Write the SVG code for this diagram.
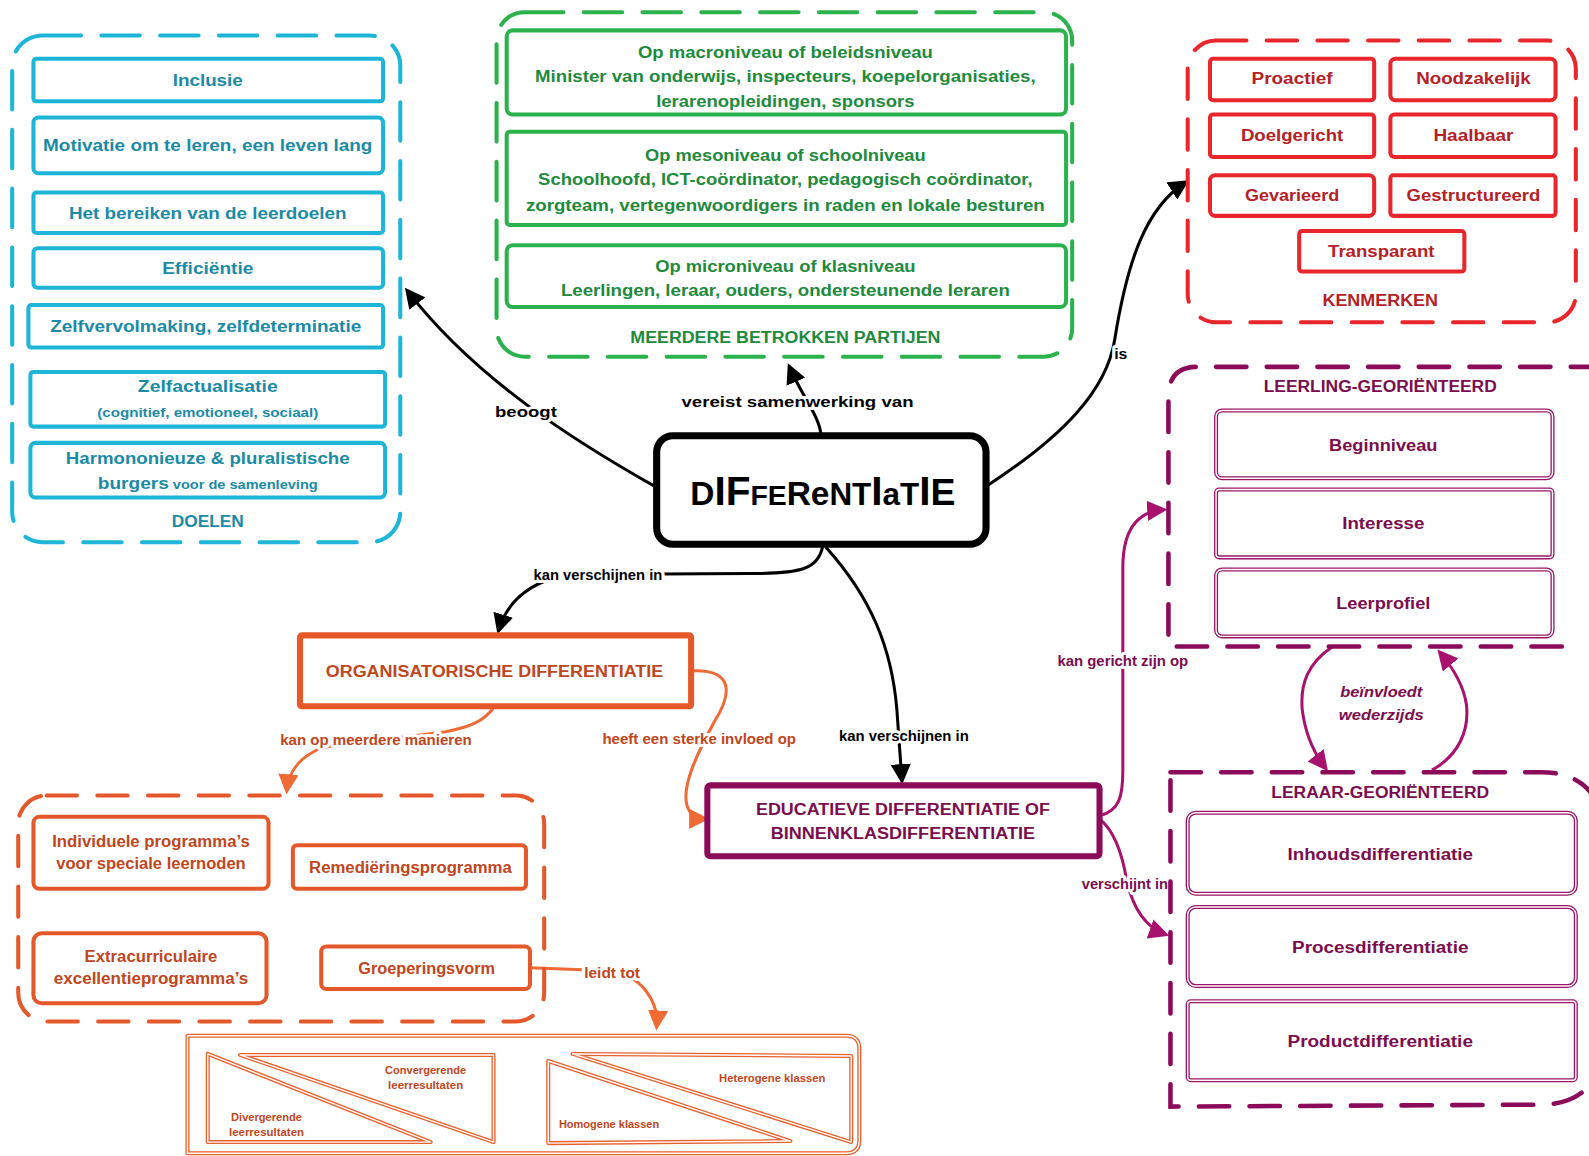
<svg xmlns="http://www.w3.org/2000/svg" width="1589" height="1156" viewBox="0 0 1589 1156">
<style>
text{font-family:"Liberation Sans",Arial,sans-serif;font-weight:bold;text-anchor:middle}
.bg{fill:#fff}
.cyd{fill:none;stroke:#1eb6d8;stroke-width:4;stroke-dasharray:38 20;stroke-linecap:round}
.cyb{fill:#fff;stroke:#1eb6d8;stroke-width:4;stroke-linejoin:round}
.cyt{fill:#1a8ba6}
.grd{fill:none;stroke:#2bb24c;stroke-width:4;stroke-dasharray:38 20;stroke-linecap:round}
.grb{fill:#fff;stroke:#2bb24c;stroke-width:4;stroke-linejoin:round}
.grt{fill:#1e8a3c}
.rdd{fill:none;stroke:#e8262b;stroke-width:4;stroke-dasharray:30 20;stroke-linecap:round}
.rdb{fill:#fff;stroke:#e8262b;stroke-width:4;stroke-linejoin:round}
.rdt{fill:#b42126}
.pud{fill:none;stroke:#8c0a5a;stroke-width:4.5;stroke-dasharray:30 20;stroke-linecap:round}
.pub{fill:#fff;stroke:#9a1468;stroke-width:4;stroke-linejoin:round}
.pubi{fill:none;stroke:#fff;stroke-width:1.4}
.put{fill:#7b0d4e}
.ord{fill:none;stroke:#e4582a;stroke-width:4;stroke-dasharray:30 20;stroke-linecap:round}
.orb{fill:#fff;stroke:#e4582a;stroke-width:4;stroke-linejoin:round}
.orw{fill:none;stroke:#e8602c;stroke-width:4;stroke-linejoin:round}
.orwi{fill:none;stroke:#fff;stroke-width:1.4;stroke-linejoin:round}
.ort{fill:#c0461d}
.lbl{paint-order:stroke;stroke:#fff;stroke-width:6;stroke-linejoin:round}
.ck{fill:none;stroke:#000;stroke-width:3}
.co{fill:none;stroke:#f06a35;stroke-width:3}
.cp{fill:none;stroke:#a8126e;stroke-width:3}
</style>
<defs>
<marker id="mk" viewBox="0 0 10 10" refX="8" refY="5" markerWidth="20" markerHeight="20" markerUnits="userSpaceOnUse" orient="auto"><path d="M0,0 L10,5 L0,10 z" fill="#000"/></marker>
<marker id="mo" viewBox="0 0 10 10" refX="8" refY="5" markerWidth="20" markerHeight="20" markerUnits="userSpaceOnUse" orient="auto"><path d="M0,0 L10,5 L0,10 z" fill="#f06a35"/></marker>
<marker id="mp" viewBox="0 0 10 10" refX="8" refY="5" markerWidth="20" markerHeight="20" markerUnits="userSpaceOnUse" orient="auto"><path d="M0,0 L10,5 L0,10 z" fill="#a8126e"/></marker>
</defs>
<rect class="bg" x="0" y="0" width="1589" height="1156"/>
<g transform="scale(1.01339)">

<g id="connectors">
<path class="ck" d="M648,481 C570,437 470,375 402,287" marker-end="url(#mk)"/>
<path class="ck" d="M810,428 C808,410 792,392 779,362" marker-end="url(#mk)"/>
<path class="ck" d="M973,480 C1050,430 1092,385 1100,335 C1112,260 1130,205 1170,180" marker-end="url(#mk)"/>
<path class="ck" d="M812,538 C808,562 790,566 740,566 L560,567 C520,575 500,595 492,622" marker-end="url(#mk)"/>
<path class="ck" d="M815,540 C860,590 880,640 885,700 L890,770" marker-end="url(#mk)"/>
<path class="co" d="M488,697 C478,712 462,718 440,722 L320,737 C296,746 285,760 283,780" marker-end="url(#mo)"/>
<path class="co" d="M682,662 C725,660 722,685 705,712 C690,740 672,775 678,795 C681,805 688,808 696,808" marker-end="url(#mo)"/>
<path class="co" d="M523,955 L600,958 C635,962 650,990 648,1013" marker-end="url(#mo)"/>
<path class="cp" d="M1085,805 C1105,800 1108,785 1108,760 L1108,560 C1108,525 1120,505 1148,503" marker-end="url(#mp)"/>
<path class="cp" d="M1085,808 C1100,820 1108,845 1112,870 C1118,895 1130,915 1150,922" marker-end="url(#mp)"/>
<path class="cp" d="M1315,638 C1290,655 1283,675 1285,700 C1288,725 1298,745 1308,758" marker-end="url(#mp)"/>
<path class="cp" d="M1413,760 C1440,745 1450,720 1447,695 C1444,675 1432,657 1421,644" marker-end="url(#mp)"/>
<text class="lbl" x="519" y="411" font-size="15" textLength="61" lengthAdjust="spacingAndGlyphs">beoogt</text>
<text class="lbl" x="787" y="402" font-size="15" textLength="229" lengthAdjust="spacingAndGlyphs">vereist samenwerking van</text>
<text class="lbl" x="1106" y="354" font-size="15" textLength="13" lengthAdjust="spacingAndGlyphs">is</text>
<text class="lbl" x="590" y="572" font-size="14" textLength="127" lengthAdjust="spacingAndGlyphs">kan verschijnen in</text>
<text class="lbl" x="892" y="731" font-size="14" textLength="128" lengthAdjust="spacingAndGlyphs">kan verschijnen in</text>
<text class="lbl ort" x="371" y="735" font-size="14" textLength="189" lengthAdjust="spacingAndGlyphs">kan op meerdere manieren</text>
<text class="lbl ort" x="690" y="734" font-size="14" textLength="191" lengthAdjust="spacingAndGlyphs">heeft een sterke invloed op</text>
<text class="lbl ort" x="604" y="965" font-size="14" textLength="55" lengthAdjust="spacingAndGlyphs">leidt tot</text>
<text class="lbl put" x="1108" y="657" font-size="14" textLength="129" lengthAdjust="spacingAndGlyphs">kan gericht zijn op</text>
<text class="lbl put" x="1110" y="877" font-size="14" textLength="85" lengthAdjust="spacingAndGlyphs">verschijnt in</text>
<text class="put" x="1363" y="688" font-size="15" font-style="italic" textLength="81" lengthAdjust="spacingAndGlyphs">beïnvloedt</text>
<text class="put" x="1363" y="710" font-size="15" font-style="italic" textLength="84" lengthAdjust="spacingAndGlyphs">wederzijds</text>
</g>

<g id="doelen">
<rect class="cyd" x="12" y="35" width="383" height="500" rx="30"/>
<text class="cyt" x="205" y="520" font-size="17" textLength="71" lengthAdjust="spacingAndGlyphs">DOELEN</text>
</g>
<g id="inclusie"><rect class="cyb" x="33" y="58" width="345" height="42" rx="3"/><text class="cyt" x="205" y="85" font-size="17" textLength="69" lengthAdjust="spacingAndGlyphs">Inclusie</text></g>
<g id="motivatie"><rect class="cyb" x="33" y="116" width="345" height="55" rx="5"/><text class="cyt" x="205" y="149" font-size="17" textLength="325" lengthAdjust="spacingAndGlyphs">Motivatie om te leren, een leven lang</text></g>
<g id="leerdoelen"><rect class="cyb" x="33" y="190" width="345" height="40" rx="3"/><text class="cyt" x="205" y="216" font-size="17" textLength="274" lengthAdjust="spacingAndGlyphs">Het bereiken van de leerdoelen</text></g>
<g id="efficientie"><rect class="cyb" x="33" y="245" width="345" height="39" rx="4"/><text class="cyt" x="205" y="270" font-size="17" textLength="90" lengthAdjust="spacingAndGlyphs">Efficiëntie</text></g>
<g id="zelfvervolmaking"><rect class="cyb" x="28" y="301" width="350" height="42" rx="3"/><text class="cyt" x="203" y="328" font-size="17" textLength="307" lengthAdjust="spacingAndGlyphs">Zelfvervolmaking, zelfdeterminatie</text></g>
<g id="zelfactualisatie"><rect class="cyb" x="30" y="367" width="350" height="54" rx="3"/><text class="cyt" x="205" y="387" font-size="17" textLength="138" lengthAdjust="spacingAndGlyphs">Zelfactualisatie</text><text class="cyt" x="205" y="411" font-size="13" textLength="218" lengthAdjust="spacingAndGlyphs">(cognitief, emotioneel, sociaal)</text></g>
<g id="burgers"><rect class="cyb" x="30" y="437" width="350" height="54" rx="5"/><text class="cyt" x="205" y="458" font-size="17" textLength="280" lengthAdjust="spacingAndGlyphs">Harmononieuze &amp; pluralistische</text><text class="cyt" x="205" y="483" font-size="13" textLength="217" lengthAdjust="spacingAndGlyphs"><tspan font-size="17">burgers</tspan> voor de samenleving</text></g>

<g id="partijen">
<rect class="grd" x="490" y="12" width="568" height="340" rx="28"/>
<text class="grt" x="775" y="338" font-size="17" textLength="306" lengthAdjust="spacingAndGlyphs">MEERDERE BETROKKEN PARTIJEN</text>
</g>
<g id="macro"><rect class="grb" x="500" y="30" width="552" height="83" rx="6"/><text class="grt" x="775" y="57" font-size="17" textLength="291" lengthAdjust="spacingAndGlyphs" style="font-weight:900">Op macroniveau of beleidsniveau</text><text class="grt" x="775" y="81" font-size="17" textLength="494" lengthAdjust="spacingAndGlyphs">Minister van onderwijs, inspecteurs, koepelorganisaties,</text><text class="grt" x="775" y="106" font-size="17" textLength="255" lengthAdjust="spacingAndGlyphs">lerarenopleidingen, sponsors</text></g>
<g id="meso"><rect class="grb" x="500" y="130" width="552" height="92" rx="3"/><text class="grt" x="775" y="159" font-size="17" textLength="277" lengthAdjust="spacingAndGlyphs">Op mesoniveau of schoolniveau</text><text class="grt" x="775" y="183" font-size="17" textLength="488" lengthAdjust="spacingAndGlyphs">Schoolhoofd, ICT-coördinator, pedagogisch coördinator,</text><text class="grt" x="775" y="208" font-size="17" textLength="512" lengthAdjust="spacingAndGlyphs">zorgteam, vertegenwoordigers in raden en lokale besturen</text></g>
<g id="micro"><rect class="grb" x="500" y="242" width="552" height="61" rx="6"/><text class="grt" x="775" y="268" font-size="17" textLength="257" lengthAdjust="spacingAndGlyphs">Op microniveau of klasniveau</text><text class="grt" x="775" y="292" font-size="17" textLength="443" lengthAdjust="spacingAndGlyphs">Leerlingen, leraar, ouders, ondersteunende leraren</text></g>

<g id="kenmerken">
<rect class="rdd" x="1172" y="40" width="383" height="278" rx="28"/>
<text class="rdt" x="1362" y="302" font-size="17" textLength="114" lengthAdjust="spacingAndGlyphs">KENMERKEN</text>
</g>
<g id="proactief"><rect class="rdb" x="1194" y="58" width="162" height="41" rx="3"/><text class="rdt" x="1275" y="83" font-size="17" textLength="80" lengthAdjust="spacingAndGlyphs">Proactief</text></g>
<g id="noodzakelijk"><rect class="rdb" x="1372" y="58" width="163" height="41" rx="5"/><text class="rdt" x="1454" y="83" font-size="17" textLength="113" lengthAdjust="spacingAndGlyphs">Noodzakelijk</text></g>
<g id="doelgericht"><rect class="rdb" x="1194" y="113" width="162" height="42" rx="3"/><text class="rdt" x="1275" y="139" font-size="17" textLength="101" lengthAdjust="spacingAndGlyphs">Doelgericht</text></g>
<g id="haalbaar"><rect class="rdb" x="1372" y="113" width="163" height="42" rx="4"/><text class="rdt" x="1454" y="139" font-size="17" textLength="79" lengthAdjust="spacingAndGlyphs">Haalbaar</text></g>
<g id="gevarieerd"><rect class="rdb" x="1194" y="173" width="162" height="40" rx="5"/><text class="rdt" x="1275" y="198" font-size="17" textLength="93" lengthAdjust="spacingAndGlyphs">Gevarieerd</text></g>
<g id="gestructureerd"><rect class="rdb" x="1372" y="173" width="163" height="40" rx="3"/><text class="rdt" x="1454" y="198" font-size="17" textLength="132" lengthAdjust="spacingAndGlyphs">Gestructureerd</text></g>
<g id="transparant"><rect class="rdb" x="1282" y="228" width="163" height="40" rx="3"/><text class="rdt" x="1363" y="254" font-size="17" textLength="105" lengthAdjust="spacingAndGlyphs">Transparant</text></g>

<g id="differentiatie">
<rect x="648" y="430" width="325" height="107" rx="16" fill="#fff" stroke="#000" stroke-width="7"/>
<text x="812" y="498" fill="#000" font-size="37" style="font-weight:900"><tspan font-size="33">D</tspan><tspan font-size="40">IF</tspan><tspan font-size="28">FE</tspan><tspan font-size="33">Re</tspan><tspan font-size="31">NT</tspan><tspan font-size="40">I</tspan><tspan font-size="31">aT</tspan><tspan font-size="40">I</tspan><tspan font-size="37">E</tspan></text>
</g>

<g id="leerling">
<path class="pud" d="M1580,362 L1181,362 Q1153,362 1153,392 L1153,638 L1552,638"/>
<text class="put" x="1362" y="387" font-size="17" textLength="230" lengthAdjust="spacingAndGlyphs">LEERLING-GEORIËNTEERD</text>
</g>
<g id="beginniveau"><rect class="pub" x="1200" y="405" width="332" height="67" rx="6"/><rect class="pubi" x="1200" y="405" width="332" height="67" rx="6"/><text class="put" x="1365" y="445" font-size="17" textLength="107" lengthAdjust="spacingAndGlyphs">Beginniveau</text></g>
<g id="interesse"><rect class="pub" x="1200" y="483" width="332" height="67" rx="3"/><rect class="pubi" x="1200" y="483" width="332" height="67" rx="3"/><text class="put" x="1365" y="522" font-size="17" textLength="81" lengthAdjust="spacingAndGlyphs">Interesse</text></g>
<g id="leerprofiel"><rect class="pub" x="1200" y="562" width="332" height="66" rx="6"/><rect class="pubi" x="1200" y="562" width="332" height="66" rx="6"/><text class="put" x="1365" y="601" font-size="17" textLength="93" lengthAdjust="spacingAndGlyphs">Leerprofiel</text></g>

<g id="leraar">
<path class="pud" d="M1155,762 L1520,762 Q1560,762 1575,790"/>
<path class="pud" d="M1155,770 L1155,1092 L1525,1090 Q1560,1088 1575,1062"/>
<text class="put" x="1362" y="787" font-size="17" textLength="215" lengthAdjust="spacingAndGlyphs">LERAAR-GEORIËNTEERD</text>
</g>
<g id="inhoud"><rect class="pub" x="1172" y="802" width="383" height="80" rx="8"/><rect class="pubi" x="1172" y="802" width="383" height="80" rx="8"/><text class="put" x="1362" y="849" font-size="17" textLength="183" lengthAdjust="spacingAndGlyphs">Inhoudsdifferentiatie</text></g>
<g id="proces"><rect class="pub" x="1172" y="895" width="383" height="78" rx="8"/><rect class="pubi" x="1172" y="895" width="383" height="78" rx="8"/><text class="put" x="1362" y="940" font-size="17" textLength="174" lengthAdjust="spacingAndGlyphs">Procesdifferentiatie</text></g>
<g id="product"><rect class="pub" x="1172" y="988" width="383" height="78" rx="3"/><rect class="pubi" x="1172" y="988" width="383" height="78" rx="3"/><text class="put" x="1362" y="1033" font-size="17" textLength="183" lengthAdjust="spacingAndGlyphs">Productdifferentiatie</text></g>

<g id="educatieve"><rect x="698" y="775" width="387" height="70" rx="3" fill="#fff" stroke="#8c0a5a" stroke-width="6"/><text class="put" x="891" y="804" font-size="17" textLength="290" lengthAdjust="spacingAndGlyphs">EDUCATIEVE DIFFERENTIATIE OF</text><text class="put" x="891" y="828" font-size="17" textLength="261" lengthAdjust="spacingAndGlyphs">BINNENKLASDIFFERENTIATIE</text></g>

<g id="organisatorische"><rect x="296" y="627" width="386" height="70" rx="2" fill="#fff" stroke="#e4582a" stroke-width="6"/><text class="ort" x="488" y="668" font-size="17" textLength="333" lengthAdjust="spacingAndGlyphs">ORGANISATORISCHE DIFFERENTIATIE</text></g>

<g id="vormen">
<rect class="ord" x="18" y="785" width="519" height="223" rx="28"/>
</g>
<g id="individuele"><rect class="orb" x="33" y="806" width="232" height="71" rx="6"/><text class="ort" x="149" y="836" font-size="16" textLength="195" lengthAdjust="spacingAndGlyphs">Individuele programma’s</text><text class="ort" x="149" y="858" font-size="16" textLength="187" lengthAdjust="spacingAndGlyphs">voor speciale leernoden</text></g>
<g id="remediering"><rect class="orb" x="289" y="834" width="230" height="43" rx="4"/><text class="ort" x="405" y="861" font-size="16" textLength="200" lengthAdjust="spacingAndGlyphs">Remediëringsprogramma</text></g>
<g id="extracurriculaire"><rect class="orb" x="33" y="921" width="230" height="69" rx="8"/><text class="ort" x="149" y="949" font-size="16" textLength="131" lengthAdjust="spacingAndGlyphs">Extracurriculaire</text><text class="ort" x="149" y="971" font-size="16" textLength="192" lengthAdjust="spacingAndGlyphs">excellentieprogramma’s</text></g>
<g id="groeperingsvorm"><rect class="orb" x="317" y="934" width="206" height="42" rx="5"/><text class="ort" x="421" y="961" font-size="16" textLength="135" lengthAdjust="spacingAndGlyphs">Groeperingsvorm</text></g>

<g id="resultaten">
<path class="orw" d="M185,1022 L835,1022 Q848,1022 848,1035 L848,1125 Q848,1138 835,1138 L185,1138 Z"/>
<path class="orwi" d="M185,1022 L835,1022 Q848,1022 848,1035 L848,1125 Q848,1138 835,1138 L185,1138 Z"/>
<polygon class="orw" points="205,1040 205,1127 425,1127"/><polygon class="orwi" points="205,1040 205,1127 425,1127"/>
<polygon class="orw" points="237,1041 487,1041 487,1127"/><polygon class="orwi" points="237,1041 487,1041 487,1127"/>
<polygon class="orw" points="541,1047 541,1128 780,1126"/><polygon class="orwi" points="541,1047 541,1128 780,1126"/>
<polygon class="orw" points="565,1040 840,1042 840,1127"/><polygon class="orwi" points="565,1040 840,1042 840,1127"/>
<text class="ort" x="420" y="1060" font-size="11" textLength="80" lengthAdjust="spacingAndGlyphs">Convergerende</text>
<text class="ort" x="420" y="1075" font-size="11" textLength="74" lengthAdjust="spacingAndGlyphs">leerresultaten</text>
<text class="ort" x="263" y="1106" font-size="11" textLength="70" lengthAdjust="spacingAndGlyphs">Divergerende</text>
<text class="ort" x="263" y="1121" font-size="11" textLength="74" lengthAdjust="spacingAndGlyphs">leerresultaten</text>
<text class="ort" x="762" y="1068" font-size="11" textLength="105" lengthAdjust="spacingAndGlyphs">Heterogene klassen</text>
<text class="ort" x="601" y="1113" font-size="11" textLength="99" lengthAdjust="spacingAndGlyphs">Homogene klassen</text>
</g>

</g>
</svg>
